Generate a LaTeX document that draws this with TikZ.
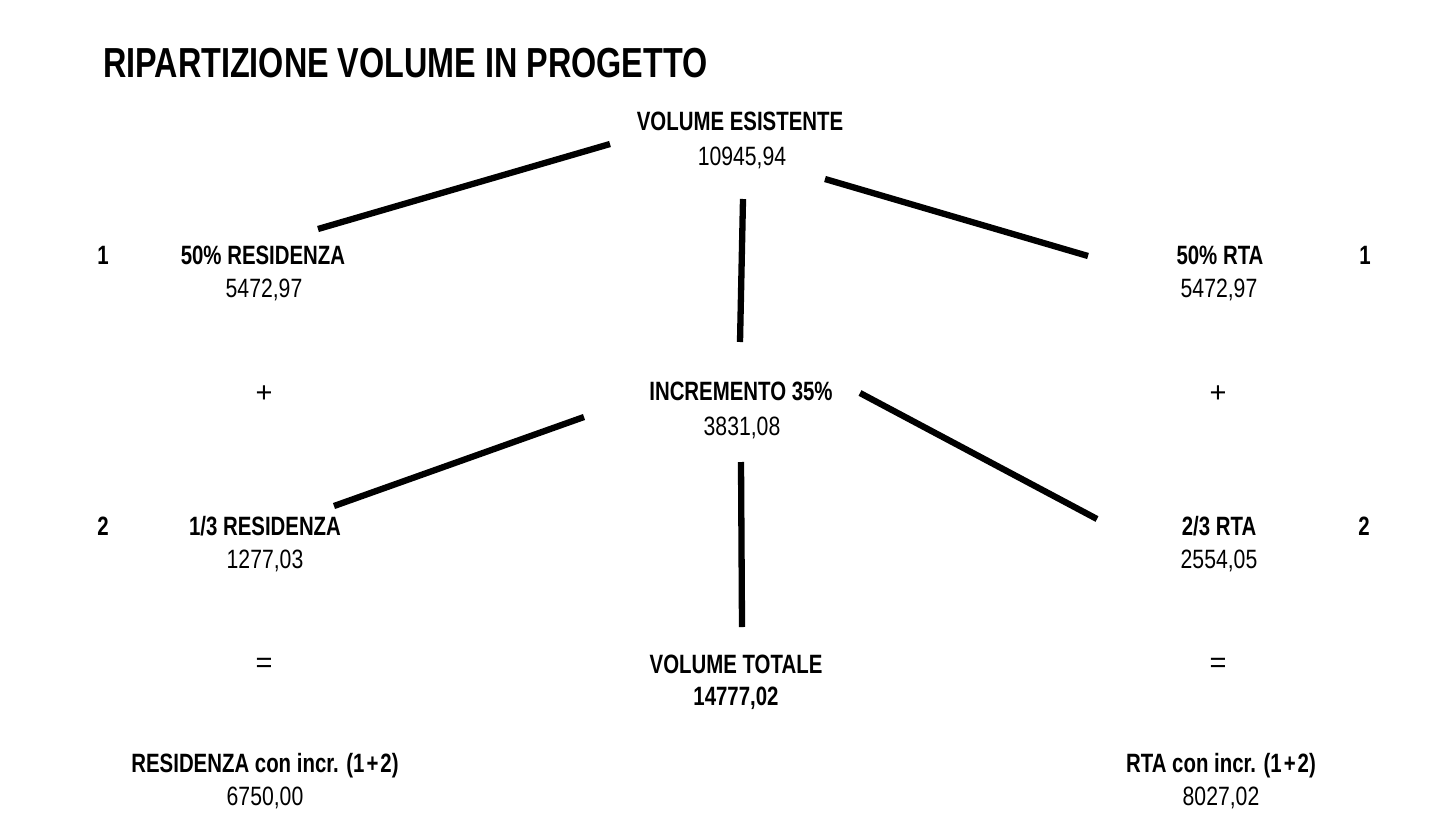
\documentclass[tikz,border=0pt]{standalone}
\usepackage{fontspec}
\newfontfamily\condreg{Liberation Sans}[FakeStretch=0.80]
\newfontfamily\condbf{Liberation Sans}[FakeStretch=0.77]
\newfontfamily\plainreg{Liberation Sans}
\begin{document}
\begin{tikzpicture}[x=1bp,y=-1bp,
  lbl/.style={anchor=base, inner sep=0pt, font=\condbf\bfseries\fontsize{26.5bp}{30bp}\selectfont},
  val/.style={anchor=base, inner sep=0pt, font=\condreg\fontsize{26.5bp}{30bp}\selectfont},
  opsym/.style={anchor=base, inner sep=0pt, font=\plainreg\fontsize{29bp}{32bp}\selectfont},
  ttl/.style={anchor=base west, inner sep=0pt, font=\condbf\bfseries\fontsize{42bp}{46bp}\selectfont},
  conn/.style={line width=6.3bp, black}]
\fill[white] (0,0) rectangle (1431,833);
\useasboundingbox (0,0) rectangle (1431,833);

\node[ttl] (title) at (103,77) {RIPARTIZIONE VOLUME IN PROGETTO};

\node[lbl] (ve)  at (740,130) {VOLUME ESISTENTE};
\node[val] (vev) at (742,165) {10945,94};

\node[lbl] (onel) at (103,264) {1};
\node[lbl] (res)  at (263,264) {50\% RESIDENZA};
\node[val] (resv) at (264,297) {5472,97};
\node[lbl] (rta)  at (1220,264) {50\% RTA};
\node[val] (rtav) at (1219,297) {5472,97};
\node[lbl] (oner) at (1365,264) {1};

\node[opsym] (plusl) at (264,402) {+};
\node[lbl] (inc)  at (741,400) {INCREMENTO 35\%};
\node[val] (incv) at (742,435) {3831,08};
\node[opsym] (plusr) at (1218,402) {+};

\node[lbl] (twol) at (103,535) {2};
\node[lbl] (res3) at (265,535) {1/3 RESIDENZA};
\node[val] (res3v) at (265,568) {1277,03};
\node[lbl] (rta3) at (1219,535) {2/3 RTA};
\node[val] (rta3v) at (1219,568) {2554,05};
\node[lbl] (twor) at (1364,535) {2};

\node[opsym] (eql) at (264,672) {=};
\node[lbl] (tot) at (736,673) {VOLUME TOTALE};
\node[lbl] (totv) at (736,705) {14777,02};
\node[opsym] (eqr) at (1218,672) {=};

\node[lbl] (resf) at (265,772) {RESIDENZA con incr. (1\kern2bp+\kern2bp2)};
\node[val] (resfv) at (265,805) {6750,00};
\node[lbl] (rtaf) at (1221,772) {RTA con incr. (1\kern2bp+\kern2bp2)};
\node[val] (rtafv) at (1221,805) {8027,02};

\coordinate (a1) at (610,144);  \coordinate (b1) at (318,229);
\coordinate (a2) at (825,179);  \coordinate (b2) at (1088,256);
\coordinate (a3) at (743,199);  \coordinate (b3) at (740,342);
\coordinate (a4) at (584,417);  \coordinate (b4) at (334,506);
\coordinate (a5) at (860,393);  \coordinate (b5) at (1097,519);
\coordinate (a6) at (741,462);  \coordinate (b6) at (742,627);

\draw[conn] (a1) -- (b1);
\draw[conn] (a2) -- (b2);
\draw[conn] (a3) -- (b3);
\draw[conn] (a4) -- (b4);
\draw[conn] (a5) -- (b5);
\draw[conn] (a6) -- (b6);
\end{tikzpicture}
\end{document}
